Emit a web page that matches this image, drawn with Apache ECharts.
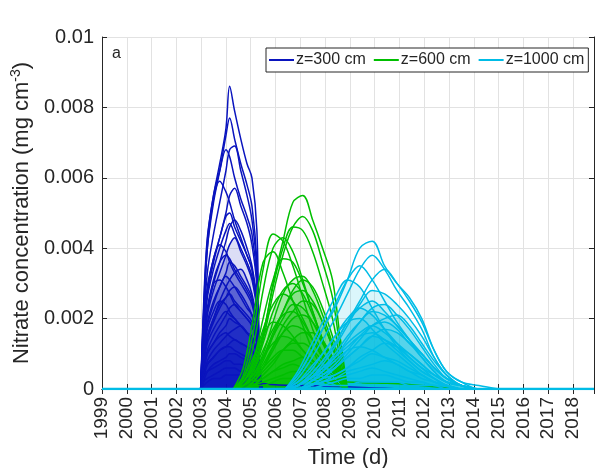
<!DOCTYPE html>
<html>
<head>
<meta charset="utf-8">
<title>Nitrate concentration</title>
<script src="https://cdn.jsdelivr.net/npm/echarts@6/dist/echarts.min.js"></script>
<style>
    html, body { margin: 0; padding: 0; background: #fff; }
    #main { width: 597px; height: 468px; }
</style>
</head>
<body>
<div id="main"></div>
<script>
// ---- data (values in mg cm-3, time in years) ----
var groupNames = ['z=300 cm', 'z=600 cm', 'z=1000 cm'];
var groupColors = ['#0A14BE', '#00BF00', '#00BCE6'];

// z=300 cm
var tBlue = [2002.98, 2003.1, 2003.25, 2003.5, 2003.75, 2004.0, 2004.15, 2004.35, 2004.6, 2004.85, 2005.05, 2005.25, 2005.35, 2005.45];
var blueCurves = [
    [0, 0.0024, 0.0043, 0.0055, 0.0064, 0.0074, 0.0086, 0.0079, 0.0071, 0.0064, 0.0060, 0.0045, 0.0009, 0],
    [0, 0.0020, 0.0040, 0.0053, 0.0062, 0.0072, 0.0077, 0.0071, 0.0064, 0.0058, 0.0052, 0.0036, 0.0008, 0],
    [0, 0.0018, 0.0033, 0.0044, 0.0053, 0.0062, 0.0068, 0.0069, 0.0062, 0.0055, 0.0048, 0.0034, 0.0007, 0],
    [0, 0.0022, 0.0042, 0.0055, 0.0062, 0.0068, 0.0066, 0.0060, 0.0054, 0.0049, 0.0044, 0.0031, 0.0006, 0],
    [0, 0.0021, 0.0040, 0.0054, 0.0059, 0.0056, 0.0053, 0.0048, 0.0043, 0.0038, 0.0034, 0.0024, 0.0005, 0],
    [0, 0.0014, 0.0027, 0.0036, 0.0043, 0.0050, 0.0055, 0.0057, 0.0052, 0.0047, 0.0041, 0.0029, 0.0006, 0],
    [0, 0.0012, 0.0022, 0.0030, 0.0036, 0.0042, 0.0046, 0.0048, 0.0045, 0.0040, 0.0035, 0.0025, 0.0005, 0],
    [0, 0.0016, 0.0029, 0.0037, 0.0043, 0.0049, 0.0050, 0.0046, 0.0042, 0.0038, 0.0034, 0.0024, 0.0005, 0],
    [0, 0.0014, 0.0026, 0.0034, 0.0040, 0.0045, 0.0047, 0.0044, 0.0040, 0.0036, 0.0032, 0.0023, 0.0005, 0],
    [0, 0.0011, 0.0021, 0.0028, 0.0033, 0.0038, 0.0041, 0.0043, 0.0039, 0.0035, 0.0031, 0.0022, 0.0004, 0],
    [0, 0.0015, 0.0028, 0.0037, 0.0041, 0.0039, 0.0036, 0.0033, 0.0030, 0.0027, 0.0024, 0.0017, 0.0003, 0],
    [0, 0.0012, 0.0023, 0.0031, 0.0036, 0.0038, 0.0037, 0.0034, 0.0031, 0.0028, 0.0025, 0.0018, 0.0003, 0],
    [0, 0.0009, 0.0018, 0.0024, 0.0029, 0.0033, 0.0036, 0.0035, 0.0032, 0.0029, 0.0026, 0.0018, 0.0003, 0],
    [0, 0.0008, 0.0015, 0.0020, 0.0025, 0.0029, 0.0031, 0.0033, 0.0034, 0.0031, 0.0027, 0.0019, 0.0003, 0],
    [0, 0.0010, 0.0019, 0.0025, 0.0029, 0.0032, 0.0031, 0.0029, 0.0026, 0.0023, 0.0021, 0.0015, 0.0003, 0],
    [0, 0.0012, 0.0022, 0.0030, 0.0031, 0.0029, 0.0027, 0.0024, 0.0022, 0.0020, 0.0018, 0.0013, 0.0002, 0],
    [0, 0.0007, 0.0014, 0.0019, 0.0023, 0.0026, 0.0028, 0.0029, 0.0027, 0.0024, 0.0021, 0.0015, 0.0003, 0],
    [0, 0.0008, 0.0015, 0.0020, 0.0024, 0.0026, 0.0027, 0.0025, 0.0023, 0.0021, 0.0019, 0.0013, 0.0002, 0],
    [0, 0.0009, 0.0017, 0.0022, 0.0025, 0.0024, 0.0022, 0.0020, 0.0018, 0.0016, 0.0015, 0.0010, 0.0002, 0],
    [0, 0.0006, 0.0011, 0.0015, 0.0018, 0.0021, 0.0023, 0.0024, 0.0022, 0.0020, 0.0018, 0.0013, 0.0002, 0],
    [0, 0.0007, 0.0013, 0.0017, 0.0020, 0.0022, 0.0021, 0.0020, 0.0018, 0.0016, 0.0015, 0.0010, 0.0002, 0],
    [0, 0.0005, 0.0010, 0.0013, 0.0016, 0.0018, 0.0020, 0.0019, 0.0018, 0.0016, 0.0014, 0.0010, 0.0002, 0],
    [0, 0.0004, 0.0008, 0.0011, 0.0013, 0.0015, 0.0016, 0.0017, 0.0018, 0.0016, 0.0014, 0.0010, 0.0002, 0],
    [0, 0.0005, 0.0010, 0.0013, 0.0015, 0.0016, 0.0015, 0.0014, 0.0013, 0.0012, 0.0011, 0.0008, 0.0001, 0],
    [0, 0.0003, 0.0007, 0.0009, 0.0011, 0.0012, 0.0013, 0.0014, 0.0013, 0.0012, 0.0011, 0.0008, 0.0001, 0],
    [0, 0.0004, 0.0007, 0.0009, 0.0011, 0.0012, 0.0012, 0.0011, 0.0010, 0.0009, 0.0008, 0.0006, 0.0001, 0],
    [0, 0.0002, 0.0005, 0.0007, 0.0008, 0.0009, 0.0010, 0.0010, 0.0009, 0.0008, 0.0007, 0.0005, 0.0001, 0],
    [0, 0.0003, 0.0005, 0.0006, 0.0007, 0.0008, 0.0008, 0.0007, 0.0007, 0.0006, 0.0005, 0.0004, 0.0001, 0],
    [0, 0.0002, 0.0003, 0.0004, 0.0005, 0.0006, 0.0006, 0.0006, 0.0005, 0.0005, 0.0004, 0.0003, 0.0001, 0],
    [0, 0.0001, 0.0002, 0.0003, 0.0003, 0.0004, 0.0004, 0.0004, 0.0004, 0.0003, 0.0003, 0.0002, 0.0001, 0]
];
var tBlueTail = [2005.0, 2006.0, 2007.0, 2008.0, 2009.0, 2010.0, 2011.0];
var blueTail = [0.0002, 0.00012, 0.0001, 0.00008, 0.00006, 0.00003, 0];

// z=600 cm
var tGreen = [2004.3, 2004.7, 2005.1, 2005.5, 2005.9, 2006.3, 2006.7, 2007.1, 2007.5, 2007.9, 2008.3, 2008.6, 2008.9];
var greenCurves = [
    [0, 0.0002, 0.0006, 0.0015, 0.0030, 0.0042, 0.0053, 0.0055, 0.0048, 0.0040, 0.0031, 0.0015, 0],
    [0, 0.0002, 0.0006, 0.0014, 0.0027, 0.0038, 0.0046, 0.0049, 0.0045, 0.0036, 0.0026, 0.0012, 0],
    [0, 0.0002, 0.0007, 0.0016, 0.0029, 0.0040, 0.0046, 0.0045, 0.0039, 0.0030, 0.0020, 0.0009, 0],
    [0, 0.0004, 0.0016, 0.0034, 0.0044, 0.0042, 0.0035, 0.0026, 0.0017, 0.0010, 0.0005, 0.0002, 0],
    [0, 0.0003, 0.0012, 0.0028, 0.0040, 0.0043, 0.0039, 0.0031, 0.0022, 0.0014, 0.0007, 0.0003, 0],
    [0, 0.0006, 0.0020, 0.0036, 0.0039, 0.0033, 0.0025, 0.0018, 0.0011, 0.0006, 0.0003, 0.0001, 0],
    [0, 0.0002, 0.0008, 0.0020, 0.0031, 0.0037, 0.0036, 0.0030, 0.0022, 0.0014, 0.0008, 0.0003, 0],
    [0, 0.0001, 0.0004, 0.0010, 0.0019, 0.0027, 0.0031, 0.0032, 0.0028, 0.0021, 0.0013, 0.0006, 0],
    [0, 0.0001, 0.0003, 0.0008, 0.0015, 0.0022, 0.0028, 0.0031, 0.0029, 0.0023, 0.0015, 0.0007, 0],
    [0, 0.0001, 0.0005, 0.0013, 0.0022, 0.0028, 0.0030, 0.0027, 0.0021, 0.0014, 0.0008, 0.0003, 0],
    [0, 0.0001, 0.0003, 0.0009, 0.0016, 0.0022, 0.0027, 0.0028, 0.0025, 0.0019, 0.0012, 0.0005, 0],
    [0, 0.0002, 0.0008, 0.0017, 0.0024, 0.0027, 0.0025, 0.0020, 0.0014, 0.0009, 0.0005, 0.0002, 0],
    [0, 0, 0.0002, 0.0006, 0.0012, 0.0018, 0.0022, 0.0025, 0.0024, 0.0019, 0.0012, 0.0005, 0],
    [0, 0.0001, 0.0004, 0.0009, 0.0015, 0.0020, 0.0024, 0.0023, 0.0019, 0.0013, 0.0007, 0.0003, 0],
    [0, 0.0001, 0.0005, 0.0011, 0.0017, 0.0021, 0.0022, 0.0019, 0.0014, 0.0009, 0.0005, 0.0002, 0],
    [0, 0, 0.0002, 0.0006, 0.0011, 0.0016, 0.0020, 0.0021, 0.0019, 0.0014, 0.0009, 0.0004, 0],
    [0, 0.0003, 0.0009, 0.0015, 0.0019, 0.0018, 0.0015, 0.0011, 0.0008, 0.0005, 0.0003, 0.0001, 0],
    [0, 0.0001, 0.0003, 0.0007, 0.0012, 0.0016, 0.0018, 0.0017, 0.0014, 0.0010, 0.0006, 0.0002, 0],
    [0, 0, 0.0001, 0.0004, 0.0007, 0.0011, 0.0014, 0.0016, 0.0016, 0.0013, 0.0009, 0.0004, 0],
    [0, 0.0001, 0.0004, 0.0009, 0.0013, 0.0015, 0.0014, 0.0011, 0.0008, 0.0005, 0.0003, 0.0001, 0],
    [0, 0, 0.0002, 0.0005, 0.0008, 0.0011, 0.0013, 0.0013, 0.0011, 0.0008, 0.0005, 0.0002, 0],
    [0, 0.0001, 0.0003, 0.0006, 0.0009, 0.0011, 0.0011, 0.0009, 0.0007, 0.0005, 0.0003, 0.0001, 0],
    [0, 0, 0.0001, 0.0003, 0.0005, 0.0007, 0.0008, 0.0009, 0.0008, 0.0006, 0.0004, 0.0002, 0],
    [0, 0, 0.0002, 0.0003, 0.0005, 0.0006, 0.0007, 0.0006, 0.0005, 0.0004, 0.0002, 0.0001, 0],
    [0, 0, 0.0001, 0.0002, 0.0003, 0.0004, 0.0005, 0.0005, 0.0004, 0.0003, 0.0002, 0.0001, 0],
    [0, 0, 0.0001, 0.0001, 0.0002, 0.0003, 0.0003, 0.0003, 0.0002, 0.0002, 0.0001, 0.0001, 0]
];
var tGreenTail = [2007.5, 2008.5, 2009.5, 2010.5, 2011.5, 2012.5, 2013.2];
var greenTail = [0.0003, 0.00022, 0.00018, 0.00016, 0.00012, 0.00006, 0];

// z=1000 cm
var tCyan = [2006.4, 2006.9, 2007.4, 2007.9, 2008.4, 2008.9, 2009.4, 2009.9, 2010.4, 2010.9, 2011.4, 2011.9, 2012.4, 2012.9, 2013.5, 2014.2, 2015.0];
var cyanCurves = [
    [0, 0.0004, 0.0010, 0.0017, 0.0023, 0.0031, 0.0040, 0.0042, 0.0035, 0.0030, 0.0026, 0.0020, 0.0011, 0.0005, 0.0002, 0.0001, 0],
    [0, 0.0003, 0.0008, 0.0014, 0.0020, 0.0027, 0.0034, 0.0038, 0.0034, 0.0028, 0.0023, 0.0017, 0.0009, 0.0004, 0.0001, 0, 0],
    [0, 0.0004, 0.0010, 0.0017, 0.0024, 0.0031, 0.0035, 0.0031, 0.0025, 0.0019, 0.0014, 0.0009, 0.0005, 0.0002, 0.0001, 0, 0],
    [0, 0.0001, 0.0004, 0.0008, 0.0013, 0.0019, 0.0025, 0.0031, 0.0034, 0.0030, 0.0025, 0.0019, 0.0011, 0.0005, 0.0002, 0, 0],
    [0, 0.0005, 0.0012, 0.0019, 0.0026, 0.0031, 0.0029, 0.0023, 0.0017, 0.0012, 0.0008, 0.0005, 0.0003, 0.0001, 0, 0, 0],
    [0, 0.0001, 0.0003, 0.0007, 0.0012, 0.0018, 0.0024, 0.0028, 0.0027, 0.0024, 0.0020, 0.0015, 0.0009, 0.0004, 0.0001, 0, 0],
    [0, 0.0001, 0.0004, 0.0008, 0.0013, 0.0019, 0.0023, 0.0025, 0.0022, 0.0018, 0.0014, 0.0010, 0.0006, 0.0003, 0.0001, 0, 0],
    [0, 0, 0.0002, 0.0005, 0.0009, 0.0014, 0.0019, 0.0023, 0.0024, 0.0021, 0.0017, 0.0012, 0.0007, 0.0003, 0.0001, 0, 0],
    [0, 0.0002, 0.0005, 0.0010, 0.0015, 0.0020, 0.0023, 0.0021, 0.0017, 0.0013, 0.0009, 0.0006, 0.0003, 0.0001, 0, 0, 0],
    [0, 0.0001, 0.0003, 0.0006, 0.0010, 0.0015, 0.0019, 0.0022, 0.0021, 0.0018, 0.0014, 0.0010, 0.0006, 0.0003, 0.0001, 0, 0],
    [0, 0, 0.0001, 0.0003, 0.0006, 0.0010, 0.0014, 0.0018, 0.0020, 0.0021, 0.0018, 0.0013, 0.0008, 0.0004, 0.0001, 0, 0],
    [0, 0.0002, 0.0006, 0.0010, 0.0015, 0.0019, 0.0020, 0.0017, 0.0013, 0.0010, 0.0007, 0.0004, 0.0002, 0.0001, 0, 0, 0],
    [0, 0, 0.0002, 0.0004, 0.0007, 0.0011, 0.0015, 0.0018, 0.0019, 0.0017, 0.0013, 0.0010, 0.0006, 0.0003, 0.0001, 0, 0],
    [0, 0.0001, 0.0003, 0.0006, 0.0009, 0.0013, 0.0016, 0.0018, 0.0016, 0.0013, 0.0010, 0.0007, 0.0004, 0.0002, 0.0001, 0, 0],
    [0, 0, 0.0001, 0.0003, 0.0006, 0.0009, 0.0012, 0.0015, 0.0017, 0.0016, 0.0013, 0.0009, 0.0005, 0.0002, 0.0001, 0, 0],
    [0, 0.0001, 0.0003, 0.0006, 0.0009, 0.0012, 0.0015, 0.0016, 0.0014, 0.0011, 0.0008, 0.0005, 0.0003, 0.0001, 0, 0, 0],
    [0, 0, 0.0002, 0.0004, 0.0006, 0.0009, 0.0012, 0.0015, 0.0014, 0.0012, 0.0009, 0.0006, 0.0004, 0.0002, 0.0001, 0, 0],
    [0, 0, 0.0001, 0.0002, 0.0004, 0.0006, 0.0009, 0.0011, 0.0013, 0.0012, 0.0010, 0.0007, 0.0004, 0.0002, 0.0001, 0, 0],
    [0, 0.0001, 0.0003, 0.0005, 0.0008, 0.0011, 0.0012, 0.0011, 0.0009, 0.0007, 0.0005, 0.0003, 0.0002, 0.0001, 0, 0, 0],
    [0, 0, 0.0001, 0.0003, 0.0004, 0.0006, 0.0008, 0.0010, 0.0009, 0.0008, 0.0006, 0.0004, 0.0002, 0.0001, 0, 0, 0],
    [0, 0, 0.0001, 0.0002, 0.0003, 0.0005, 0.0006, 0.0007, 0.0008, 0.0007, 0.0005, 0.0004, 0.0002, 0.0001, 0, 0, 0],
    [0, 0, 0.0001, 0.0002, 0.0003, 0.0004, 0.0005, 0.0006, 0.0005, 0.0004, 0.0003, 0.0002, 0.0001, 0.0001, 0, 0, 0],
    [0, 0, 0, 0.0001, 0.0002, 0.0003, 0.0003, 0.0004, 0.0004, 0.0003, 0.0002, 0.0002, 0.0001, 0.0001, 0, 0, 0],
    [0, 0, 0, 0.0001, 0.0001, 0.0001, 0.0002, 0.0002, 0.0002, 0.0002, 0.0001, 0.0001, 0.0001, 0, 0, 0, 0]
];

// zero baseline drawn across the whole record
var tBase = [1999, 2018.85];
var baseVals = [0, 0];

// axis ticks
var xMin = 1999, xMax = 2018.85;
var yMin = 0, yMax = 0.01, yStep = 0.002;

// curves below these indexes get no fill (the tall outlines stay plain lines)
var areaFrom = [9, 7, 4];

var textColor = '#262626';
var fontName = "'Liberation Sans', Arial, sans-serif";

function pairs(t, v) {
    return t.map(function (x, i) { return [x, v[i]]; });
}

function makeLine(name, color, t, v, areaOpacity) {
    var s = {
        name: name,
        type: 'line',
        data: pairs(t, v),
        symbol: 'none',
        showSymbol: false,
        smooth: 0.35,
        lineStyle: { color: color, width: 1.5 },
        itemStyle: { color: color },
        silent: true,
        animation: false
    };
    if (areaOpacity) s.areaStyle = { color: color, opacity: areaOpacity };
    return s;
}

var series = [];
blueCurves.forEach(function (c, i) {
    series.push(makeLine(groupNames[0], groupColors[0], tBlue, c, i >= areaFrom[0] ? 0.14 : 0));
});
series.push(makeLine(groupNames[0], groupColors[0], tBlueTail, blueTail, 0.5));
greenCurves.forEach(function (c, i) {
    series.push(makeLine(groupNames[1], groupColors[1], tGreen, c, i >= areaFrom[1] ? 0.14 : 0));
});
series.push(makeLine(groupNames[1], groupColors[1], tGreenTail, greenTail, 0.6));
cyanCurves.forEach(function (c, i) {
    series.push(makeLine(groupNames[2], groupColors[2], tCyan, c, i >= areaFrom[2] ? 0.14 : 0));
});
var base = makeLine('base', groupColors[2], tBase, baseVals, 0);
base.lineStyle.width = 2.5;
series.push(base);

var myChart = echarts.init(document.getElementById('main'));

var option = {
    backgroundColor: '#fff',
    textStyle: { fontFamily: fontName },
    grid: { left: 102, right: 3, top: 37, bottom: 79, containLabel: false, outerBoundsMode: 'none' },
    legend: {
        data: groupNames,
        icon: 'rect',
        left: 266,
        top: 48,
        itemWidth: 25,
        itemHeight: 2,
        itemGap: 8,
        padding: [4, 4, 4, 3],
        borderColor: textColor,
        borderWidth: 1,
        backgroundColor: '#fff',
        selectedMode: false,
        textStyle: { fontSize: 16, color: textColor, fontFamily: fontName, padding: [0, 0, 0, -3] }
    },
    xAxis: [{
        type: 'value',
        min: xMin,
        max: xMax,
        interval: 1,
        position: 'bottom',
        axisLine: { show: true, onZero: false, lineStyle: { color: textColor, width: 1 } },
        axisTick: { show: true, inside: true, length: 5, lineStyle: { color: textColor } },
        axisLabel: {
            rotate: 90, fontSize: 19, color: textColor, margin: 8, fontFamily: fontName,
            formatter: function (v) { return Math.abs(v - Math.round(v)) < 1e-6 ? String(Math.round(v)) : ''; }
        },
        splitLine: { show: true, lineStyle: { color: '#e2e2e2', width: 1 } },
        name: 'Time (d)',
        nameLocation: 'middle',
        nameGap: 57,
        nameTextStyle: { fontSize: 22, color: textColor, fontFamily: fontName }
    }, {
        type: 'value',
        min: xMin,
        max: xMax,
        interval: 1,
        position: 'top',
        axisLine: { show: true, lineStyle: { color: textColor, width: 1 } },
        axisTick: { show: true, inside: true, length: 5, lineStyle: { color: textColor } },
        axisLabel: { show: false },
        splitLine: { show: false }
    }],
    yAxis: [{
        type: 'value',
        min: yMin,
        max: yMax,
        interval: yStep,
        position: 'left',
        axisLine: { show: true, lineStyle: { color: textColor, width: 1 } },
        axisTick: { show: true, inside: true, length: 5, lineStyle: { color: textColor } },
        axisLabel: { fontSize: 20, color: textColor, margin: 8, fontFamily: fontName },
        splitLine: { show: true, lineStyle: { color: '#e2e2e2', width: 1 } },
        name: '{n|Nitrate concentration (mg cm}{s|-3}{n|)}',
        nameLocation: 'middle',
        nameGap: 64,
        nameTextStyle: {
            color: textColor,
            fontFamily: fontName,
            rich: {
                n: { fontSize: 22, color: textColor, fontFamily: fontName },
                s: { fontSize: 14, color: textColor, fontFamily: fontName, padding: [0, 0, 12, 0] }
            }
        }
    }, {
        type: 'value',
        min: yMin,
        max: yMax,
        interval: yStep,
        position: 'right',
        axisLine: { show: true, lineStyle: { color: textColor, width: 1 } },
        axisTick: { show: true, inside: true, length: 5, lineStyle: { color: textColor } },
        axisLabel: { show: false },
        splitLine: { show: false }
    }],
    graphic: [{
        type: 'text',
        left: 112,
        top: 46,
        style: { text: 'a', fontSize: 16, fill: textColor, fontFamily: fontName }
    }],
    series: series
};

myChart.setOption(option);
</script>
</body>
</html>
